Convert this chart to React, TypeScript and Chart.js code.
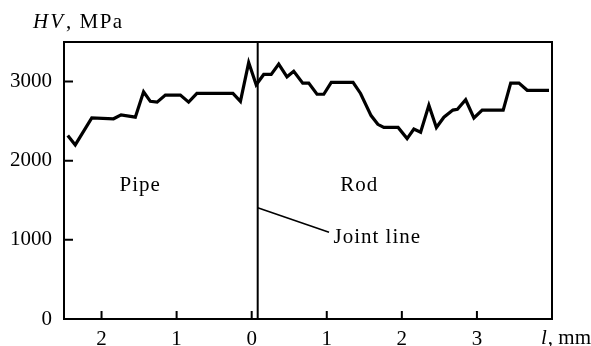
import { useEffect, useRef } from 'react';
import { Chart, registerables } from 'chart.js';

Chart.register(...registerables);

// distance from the joint, mm (negative = pipe side)
const L_MM = [-2.45, -2.35, -2.13, -1.84, -1.74, -1.55, -1.44, -1.35, -1.26, -1.15, -0.95, -0.84, -0.73, -0.25, -0.15, -0.04, 0.06, 0.16, 0.26, 0.36, 0.47, 0.56, 0.68, 0.76, 0.87, 0.96, 1.06, 1.35, 1.45, 1.59, 1.68, 1.76, 1.95, 2.07, 2.16, 2.25, 2.36, 2.46, 2.56, 2.68, 2.74, 2.85, 2.96, 3.07, 3.35, 3.45, 3.56, 3.67, 3.96];
const HV_MPA = [2320, 2200, 2540, 2530, 2580, 2550, 2870, 2750, 2740, 2830, 2830, 2740, 2850, 2850, 2750, 3240, 2960, 3090, 3090, 3220, 3060, 3130, 2980, 2980, 2840, 2840, 2990, 2990, 2850, 2570, 2460, 2420, 2420, 2280, 2400, 2360, 2700, 2420, 2550, 2640, 2650, 2770, 2540, 2640, 2640, 2980, 2980, 2890, 2890];

const X_TICKS = [-2, -1, 0, 1, 2, 3];
const Y_TICKS = [0, 1000, 2000, 3000];
const X_RANGE = [-2.5, 4];
const Y_RANGE = [0, 3500];

const JOINT_X = 0.08;
const LEADER_FROM = [JOINT_X, 1405];
const LEADER_TO = [1.03, 1096];
const TEXT_LABELS = [
  { text: 'Pipe', x: -1.76, y: 1620 },
  { text: 'Rod', x: 1.18, y: 1620 },
  { text: 'Joint line', x: 1.09, y: 960 },
];

const FONT = '"Liberation Serif", "Times New Roman", serif';
const FS = 21;

const overlay = {
  id: 'overlay',
  afterDatasetsDraw(chart: any) {
    const { ctx, chartArea: a, scales } = chart;
    const xs = scales.x;
    const ys = scales.y;
    ctx.save();
    ctx.strokeStyle = '#000';
    ctx.fillStyle = '#000';
    ctx.lineCap = 'butt';
    // frame
    ctx.lineWidth = 2;
    ctx.strokeRect(a.left, a.top, a.right - a.left, a.bottom - a.top);
    // inward ticks
    ctx.lineWidth = 2;
    ctx.beginPath();
    for (const v of Y_TICKS) {
      const py = ys.getPixelForValue(v);
      ctx.moveTo(a.left, py);
      ctx.lineTo(a.left + 9, py);
    }
    for (const v of X_TICKS) {
      const px = xs.getPixelForValue(v);
      ctx.moveTo(px, a.bottom);
      ctx.lineTo(px, a.bottom - 8);
    }
    ctx.stroke();
    // joint line
    const jx = xs.getPixelForValue(JOINT_X);
    ctx.lineWidth = 2;
    ctx.beginPath();
    ctx.moveTo(jx, a.top);
    ctx.lineTo(jx, a.bottom);
    ctx.stroke();
    // leader
    ctx.lineWidth = 1.6;
    ctx.beginPath();
    ctx.moveTo(xs.getPixelForValue(LEADER_FROM[0]), ys.getPixelForValue(LEADER_FROM[1]));
    ctx.lineTo(xs.getPixelForValue(LEADER_TO[0]), ys.getPixelForValue(LEADER_TO[1]));
    ctx.stroke();
    // texts
    ctx.textBaseline = 'alphabetic';
    ctx.textAlign = 'left';
    ctx.font = `${FS}px ${FONT}`;
    (ctx as any).letterSpacing = '1px';
    for (const t of TEXT_LABELS) {
      ctx.fillText(t.text, xs.getPixelForValue(t.x), ys.getPixelForValue(t.y));
    }
    // y axis title
    let tx = a.left - 31;
    const ty = a.top - 14;
    (ctx as any).letterSpacing = '2px';
    ctx.font = `italic ${FS}px ${FONT}`;
    ctx.fillText('HV', tx, ty);
    tx += ctx.measureText('HV').width + 1;
    (ctx as any).letterSpacing = '1.5px';
    ctx.font = `${FS}px ${FONT}`;
    ctx.fillText(', MPa', tx, ty);
    // x axis title
    (ctx as any).letterSpacing = '0px';
    let lx = a.right - 11;
    const ly = a.bottom + 25;
    ctx.font = `italic ${FS}px ${FONT}`;
    ctx.fillText('l', lx, ly);
    lx += ctx.measureText('l').width + 1;
    ctx.font = `${FS}px ${FONT}`;
    ctx.fillText(', mm', lx, ly);
    ctx.restore();
  },
};

export default function App() {
  const ref = useRef<HTMLCanvasElement>(null);
  useEffect(() => {
    document.body.style.margin = '0';
    const canvas = ref.current!;
    const chart = new Chart(canvas, {
      type: 'line',
      data: {
        datasets: [
          {
            data: L_MM.map((x, i) => ({ x, y: HV_MPA[i] })),
            borderColor: '#000',
            borderWidth: 3.2,
            pointRadius: 0,
            tension: 0,
            borderJoinStyle: 'miter',
            fill: false,
          },
        ],
      },
      options: {
        animation: false,
        responsive: false,
        devicePixelRatio: 1,
        layout: { padding: { top: 42, right: 39, left: 0, bottom: 0 } },
        plugins: { legend: { display: false }, tooltip: { enabled: false } },
        scales: {
          x: {
            type: 'linear',
            min: X_RANGE[0],
            max: X_RANGE[1],
            grid: { display: false, drawTicks: false },
            border: { display: false },
            afterBuildTicks: (s: any) => {
              s.ticks = X_TICKS.map((v) => ({ value: v }));
            },
            afterFit: (s: any) => {
              s.height = 27;
            },
            ticks: {
              padding: 8,
              color: '#000',
              font: { family: FONT, size: FS },
              maxRotation: 0,
              autoSkip: false,
              callback: (v: any) => String(Math.abs(Number(v))),
            },
          },
          y: {
            min: Y_RANGE[0],
            max: Y_RANGE[1],
            grid: { display: false, drawTicks: false },
            border: { display: false },
            afterBuildTicks: (s: any) => {
              s.ticks = Y_TICKS.map((v) => ({ value: v }));
            },
            afterFit: (s: any) => {
              s.width = 64;
            },
            ticks: {
              padding: 12,
              color: '#000',
              font: { family: FONT, size: FS },
              autoSkip: false,
              callback: (v: any) => String(v),
            },
          },
        },
      },
      plugins: [overlay],
    });
    return () => chart.destroy();
  }, []);
  return <canvas ref={ref} width={591} height={346} style={{ display: 'block' }} />;
}
